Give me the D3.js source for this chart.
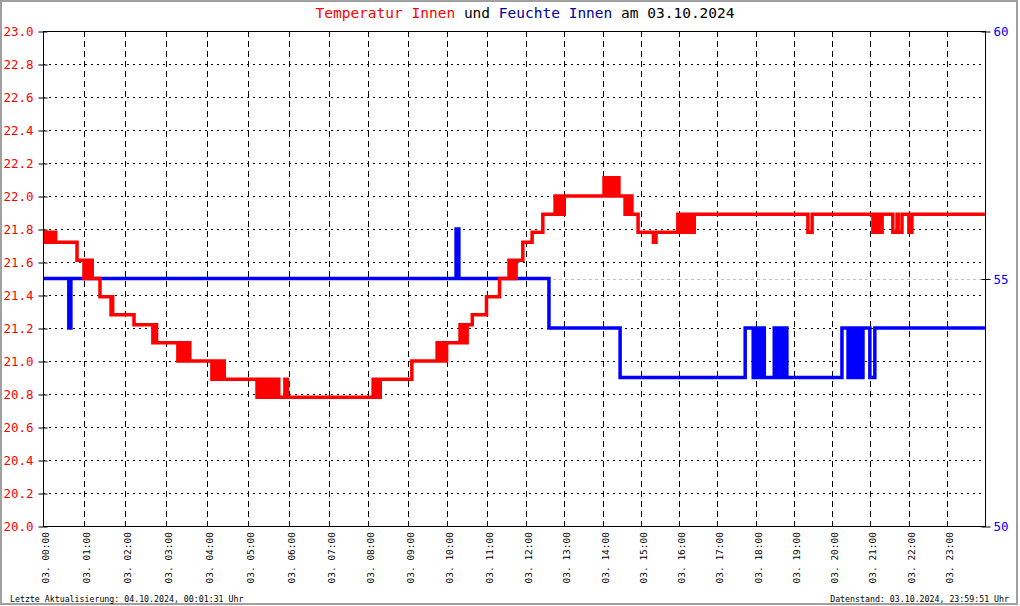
<!DOCTYPE html>
<html>
<head>
<meta charset="utf-8">
<script src="https://cdn.jsdelivr.net/npm/d3@7"></script>
<style>
  html, body { margin: 0; padding: 0; background: #fff; }
  svg { display: block; }
</style>
</head>
<body>
<svg id="chart" width="1020" height="606"></svg>
<script>
// ---------- data ----------
const hourTicks = [0,1,2,3,4,5,6,7,8,9,10,11,12,13,14,15,16,17,18,19,20,21,22,23];
const hourLabels = ["03. 00:00","03. 01:00","03. 02:00","03. 03:00","03. 04:00","03. 05:00",
  "03. 06:00","03. 07:00","03. 08:00","03. 09:00","03. 10:00","03. 11:00","03. 12:00",
  "03. 13:00","03. 14:00","03. 15:00","03. 16:00","03. 17:00","03. 18:00","03. 19:00",
  "03. 20:00","03. 21:00","03. 22:00","03. 23:00"];
const tempTicks = [20.0,20.2,20.4,20.6,20.8,21.0,21.2,21.4,21.6,21.8,22.0,22.2,22.4,22.6,22.8,23.0];
const humTicks = [50,55,60];

// temperature (time in hours, value in °C), step changes
const tempTime = [
  0.00,0.04,0.06,0.10,0.12,0.17,0.19,0.24,0.26,0.31,
  0.83,
  1.00,1.03,1.05,1.08,1.10,1.13,1.15,1.18,1.20,
  1.39,
  1.66,1.68,1.70,
  2.22,
  2.68,2.70,2.73,2.75,2.77,
  3.29,3.32,3.34,3.37,3.40,3.43,3.46,3.49,3.52,3.55,3.58,
  4.12,4.15,4.18,4.21,4.24,4.27,4.30,4.33,4.36,4.39,4.42,
  5.22,5.25,5.27,5.30,5.32,5.35,5.37,5.40,5.43,5.46,5.49,5.52,5.55,5.60,5.62,5.70,5.75,5.90,5.96,
  8.13,8.16,8.19,8.22,8.25,8.28,8.31,
  9.11,
  9.75,9.78,9.81,9.84,9.87,9.90,9.93,9.96,9.99,
  10.33,10.36,10.39,10.42,10.45,10.48,10.51,
  10.64,
  11.00,
  11.33,
  11.57,11.60,11.63,11.66,11.69,11.72,11.75,
  11.92,
  12.16,
  12.44,
  12.76,12.79,12.82,12.85,12.88,12.91,12.94,12.97,13.00,
  14.04,14.12,14.17,14.20,14.22,14.25,14.27,14.30,14.32,14.35,14.37,14.43,
  14.59,14.62,14.65,14.68,14.71,14.74,14.77,
  14.93,
  15.33,15.40,
  15.97,16.00,16.03,16.06,16.10,16.13,16.16,16.19,16.22,16.25,16.28,16.31,16.34,16.37,16.40,
  19.37,19.48,
  21.07,21.15,21.23,21.31,21.59,21.70,21.73,21.83,22.01,22.09,
  23.998
];
const tempValue = [
  21.78,21.72,21.78,21.72,21.78,21.72,21.78,21.72,21.78,21.72,
  21.61,
  21.50,21.61,21.50,21.61,21.50,21.61,21.50,21.61,21.50,
  21.39,
  21.28,21.39,21.28,
  21.22,
  21.11,21.22,21.11,21.22,21.11,
  21.00,21.11,21.00,21.11,21.00,21.11,21.00,21.11,21.00,21.11,21.00,
  20.89,21.00,20.89,21.00,20.89,21.00,20.89,21.00,20.89,21.00,20.89,
  20.78,20.89,20.78,20.89,20.78,20.89,20.78,20.89,20.78,20.89,20.78,20.89,20.78,20.89,20.78,20.89,20.78,20.89,20.78,
  20.89,20.78,20.89,20.78,20.89,20.78,20.89,
  21.00,
  21.11,21.00,21.11,21.00,21.11,21.00,21.11,21.00,21.11,
  21.22,21.11,21.22,21.11,21.22,21.11,21.22,
  21.28,
  21.39,
  21.50,
  21.61,21.50,21.61,21.50,21.61,21.50,21.61,
  21.72,
  21.78,
  21.89,
  22.00,21.89,22.00,21.89,22.00,21.89,22.00,21.89,22.00,
  22.11,22.00,22.11,22.00,22.11,22.00,22.11,22.00,22.11,22.00,22.11,22.00,
  21.89,22.00,21.89,22.00,21.89,22.00,21.89,
  21.78,
  21.72,21.78,
  21.89,21.78,21.89,21.78,21.89,21.78,21.89,21.78,21.89,21.78,21.89,21.78,21.89,21.78,21.89,
  21.78,21.89,
  21.78,21.89,21.78,21.89,21.78,21.89,21.78,21.89,21.78,21.89,
  21.89
];

// humidity (time in hours, value in %), step changes
const humTime = [
  0.00,0.63,0.68,10.23,10.30,12.60,14.46,
  17.73,17.94,17.96,17.99,18.02,18.05,18.08,18.11,18.14,18.17,18.20,18.23,
  18.49,18.52,18.55,18.58,18.61,18.64,18.67,18.70,
  18.75,18.82,
  20.26,20.42,20.45,20.48,20.51,20.54,20.57,20.60,20.63,20.66,20.69,20.72,20.75,20.78,20.81,
  20.99,21.12,23.998
];
const humValue = [
  55,54,55,56,55,54,53,
  54,53,54,53,54,53,54,53,54,53,54,53,
  54,53,54,53,54,53,54,53,
  54,53,
  54,53,54,53,54,53,54,53,54,53,54,53,54,53,54,
  53,54,54
];

// ---------- drawing ----------
const svg = d3.select("#chart");
const FONT = "'DejaVu Sans Mono', 'Liberation Mono', monospace";
const L = 43, R = 985, T = 31, B = 526;

// x axis is not linear in time in the original (sample-index based): piecewise scale
const x = d3.scaleLinear().domain([0, 6, 12, 24]).range([L, 289, 526, R]);
const yT = d3.scaleLinear().domain([20, 23]).range([B, T]);
const yH = d3.scaleLinear().domain([50, 60]).range([B, T]);

// outer frame
svg.append("rect").attr("x", 1).attr("y", 1).attr("width", 1016).attr("height", 603)
  .attr("fill", "#fff").attr("stroke", "#a0a0a0").attr("stroke-width", 2);

// horizontal dotted grid
svg.append("g").selectAll("line")
  .data(tempTicks.filter(v => v > 20 && v < 23))
  .join("line")
  .attr("x1", L).attr("x2", R)
  .attr("y1", d => Math.round(yT(d)) + 0.5).attr("y2", d => Math.round(yT(d)) + 0.5)
  .attr("stroke", "#000").attr("stroke-width", 1).attr("stroke-dasharray", "2,4");

// vertical dashed grid
svg.append("g").selectAll("line")
  .data(hourTicks.filter(h => h > 0))
  .join("line")
  .attr("x1", d => Math.round(x(d)) + 0.5).attr("x2", d => Math.round(x(d)) + 0.5)
  .attr("y1", T).attr("y2", B)
  .attr("stroke", "#000").attr("stroke-width", 1).attr("stroke-dasharray", "6,4");

// gray reference line at 55 %
svg.append("line")
  .attr("x1", L).attr("x2", R)
  .attr("y1", Math.round(yH(55)) + 0.5).attr("y2", Math.round(yH(55)) + 0.5)
  .attr("stroke", "#c0c0c0").attr("stroke-width", 1).attr("stroke-dasharray", "3,3");

// humidity line
const humData = humTime.map((t, i) => [t, humValue[i]]);
svg.append("path")
  .datum(humData)
  .attr("fill", "none").attr("stroke", "#0000ff").attr("stroke-width", 3.5)
  .attr("stroke-linejoin", "miter").attr("stroke-linecap", "butt")
  .attr("d", d3.line().x(d => x(d[0])).y(d => yH(d[1])).curve(d3.curveStepAfter));

// temperature line
const tempData = tempTime.map((t, i) => [t, tempValue[i]]);
svg.append("path")
  .datum(tempData)
  .attr("fill", "none").attr("stroke", "#ff0000").attr("stroke-width", 3.5)
  .attr("stroke-linejoin", "miter").attr("stroke-linecap", "butt")
  .attr("d", d3.line().x(d => x(d[0])).y(d => yT(d[1])).curve(d3.curveStepAfter));

// frame lines of plot
svg.append("rect").attr("x", L + 0.5).attr("y", T + 0.5)
  .attr("width", R - L).attr("height", B - T)
  .attr("fill", "none").attr("stroke", "#000").attr("stroke-width", 1);

// left axis
const gL = svg.append("g").attr("transform", `translate(${L + 0.5},0.5)`)
  .call(d3.axisLeft(yT).tickValues(tempTicks).tickFormat(d3.format(".1f")).tickSize(5).tickPadding(5));
gL.select(".domain").remove();
gL.selectAll(".tick line").attr("x1", 4).attr("x2", -5).attr("stroke", "#000");
gL.selectAll("text").attr("fill", "#ff0000").style("font-family", FONT).style("font-size", "12.5px");

// right axis
const gR = svg.append("g").attr("transform", `translate(${R + 0.5},0.5)`)
  .call(d3.axisRight(yH).tickValues(humTicks).tickSize(5).tickPadding(3));
gR.select(".domain").remove();
gR.selectAll(".tick line").attr("x1", -4).attr("x2", 5).attr("stroke", "#000");
gR.selectAll("text").attr("fill", "#0000ff").style("font-family", FONT).style("font-size", "12.5px");

// bottom axis (rotated labels)
const gB = svg.append("g").attr("transform", `translate(0.5,${B})`)
  .call(d3.axisBottom(x).tickValues(hourTicks).tickFormat((d, i) => hourLabels[i]).tickSize(0));
gB.select(".domain").remove();
gB.selectAll("text")
  .attr("x", 0).attr("y", 0).attr("dy", null)
  .attr("text-anchor", "end")
  .attr("transform", "translate(5,6) rotate(-90)")
  .attr("fill", "#000")
  .style("font-family", FONT).style("font-size", "9.5px");

// title
const title = svg.append("text").attr("x", 525).attr("y", 18)
  .attr("text-anchor", "middle")
  .style("font-family", FONT).style("font-size", "14.5px");
title.append("tspan").attr("fill", "#ff0000").text("Temperatur Innen");
title.append("tspan").attr("fill", "#000").text(" und ");
title.append("tspan").attr("fill", "#00009a").text("Feuchte Innen");
title.append("tspan").attr("fill", "#000").text(" am 03.10.2024");

// footer
svg.append("text").attr("x", 10).attr("y", 602)
  .style("font-family", FONT).style("font-size", "8.25px").attr("fill", "#000")
  .text("Letzte Aktualisierung: 04.10.2024, 00:01:31 Uhr");
svg.append("text").attr("x", 1009).attr("y", 602).attr("text-anchor", "end")
  .style("font-family", FONT).style("font-size", "8.25px").attr("fill", "#000")
  .text("Datenstand: 03.10.2024, 23:59:51 Uhr");
</script>
</body>
</html>
